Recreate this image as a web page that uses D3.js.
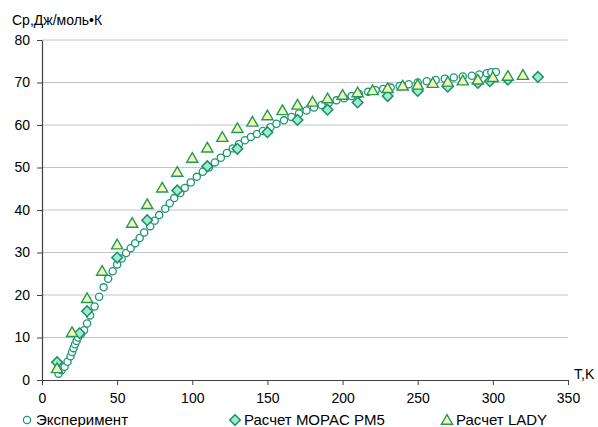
<!DOCTYPE html>
<html>
<head>
<meta charset="utf-8">
<script src="https://cdn.jsdelivr.net/npm/d3@7"></script>
<style>
  body { margin: 0; background: #fff; }
  svg { font-family: Arial, "Liberation Sans", sans-serif; }
</style>
</head>
<body>
<svg id="chart" width="598" height="427"></svg>
<script>
// experiment points [T, Cp]
const expT  = [11,13,15,17,19,20,21,22,23,24,26,28,30,32,35,38,41,44,47,50,53,56,59,62,65,68,72,75,78,82,85,88,92,95,99,103,107,111,115,119,123,127,131,135,139,143,147,152,156,161,166,171,176,181,186,191,196,201,206,211,217,222,227,232,238,244,250,256,262,268,274,280,286,291,296,299,302];
const expCp = [1.5,2.3,3.1,4.3,5.6,6.6,7.5,8.4,9.2,10.0,10.8,11.7,13.3,15.2,17.3,19.6,21.8,23.8,25.6,27.2,28.6,29.9,31.0,32.2,33.4,34.7,36.2,37.5,38.8,40.3,41.6,42.8,44.0,45.2,46.5,47.8,49.0,50.0,51.2,52.3,53.4,54.5,55.5,56.4,57.2,57.9,58.6,59.5,60.3,61.1,61.9,62.7,63.4,64.1,64.7,65.3,65.8,66.3,66.8,67.3,67.8,68.2,68.5,68.8,69.2,69.6,70.0,70.3,70.6,70.9,71.2,71.4,71.6,71.9,72.2,72.4,72.5];

// MOPAC PM5
const pm5T  = [10,25,30,50,70,90,110,130,150,170,190,210,230,250,270,290,298,310,330];
const pm5Cp = [4.2,11.0,16.2,28.8,37.6,44.6,50.3,54.4,58.3,61.2,63.6,65.3,66.8,68.0,69.0,69.9,70.3,70.7,71.3];

// LADY
const ladyT  = [10,20,30,40,50,60,70,80,90,100,110,120,130,140,150,160,170,180,190,200,210,220,230,240,250,260,270,280,290,300,310,320];
const ladyCp = [2.5,11.0,19.0,25.4,31.6,36.7,41.1,45.0,48.7,52.0,54.4,56.9,59.0,60.5,62.0,63.2,64.5,65.2,66.0,66.8,67.4,67.9,68.4,69.0,69.2,69.6,69.9,70.2,70.4,71.0,71.3,71.5];

const xTicks = [0,50,100,150,200,250,300,350];
const yTicks = [0,10,20,30,40,50,60,70,80];

const svg = d3.select("#chart");
const mLeft = 42, mRight = 568, mTop = 40, mBottom = 380;

const x = d3.scaleLinear().domain([0, 350]).range([mLeft, mRight]);
const y = d3.scaleLinear().domain([0, 80]).range([mBottom, mTop]);

const green = "#1e9870";

// gridlines
svg.append("g")
    .selectAll("line")
    .data(yTicks.filter(d => d > 0))
    .join("line")
    .attr("x1", mLeft).attr("x2", mRight)
    .attr("y1", d => y(d)).attr("y2", d => y(d))
    .attr("stroke", "#c4c4c4")
    .attr("stroke-width", 1);

// axes
const xAxis = svg.append("g")
    .attr("transform", `translate(0,${mBottom})`)
    .call(d3.axisBottom(x).tickValues(xTicks).tickSize(5).tickPadding(8).tickSizeOuter(0));
const yAxis = svg.append("g")
    .attr("transform", `translate(${mLeft},0)`)
    .call(d3.axisLeft(y).tickValues(yTicks).tickSize(5).tickPadding(7).tickSizeOuter(0));

[xAxis, yAxis].forEach(a => {
    a.select(".domain").attr("stroke", "#404040").attr("stroke-width", 1.2);
    a.selectAll(".tick line").attr("stroke", "#404040");
    a.selectAll("text").attr("font-size", 14).attr("fill", "#000")
        .attr("font-family", "Arial, 'Liberation Sans', sans-serif");
});

// axis titles
svg.append("text")
    .attr("x", 12).attr("y", 25)
    .attr("font-size", 14)
    .text("Ср,Дж/моль•К");
svg.append("text")
    .attr("x", 574).attr("y", 379)
    .attr("font-size", 14)
    .text("T,K");

const tri = d3.symbol().type(d3.symbolTriangle).size(54);
const dia = d3.symbol().type(d3.symbolSquare).size(56);

// experiment circles
svg.append("g")
    .selectAll("circle")
    .data(expT.map((t, i) => [t, expCp[i]]))
    .join("circle")
    .attr("cx", d => x(d[0]))
    .attr("cy", d => y(d[1]))
    .attr("r", 3.6)
    .attr("fill", "#fff")
    .attr("stroke", green)
    .attr("stroke-width", 1.3);

// PM5 diamonds
svg.append("g")
    .selectAll("path")
    .data(pm5T.map((t, i) => [t, pm5Cp[i]]))
    .join("path")
    .attr("d", dia)
    .attr("transform", d => `translate(${x(d[0])},${y(d[1])}) rotate(45)`)
    .attr("fill", "#9eeccc")
    .attr("stroke", "#1a8f6a")
    .attr("stroke-width", 1.5);

// LADY triangles
svg.append("g")
    .selectAll("path")
    .data(ladyT.map((t, i) => [t, ladyCp[i]]))
    .join("path")
    .attr("d", tri)
    .attr("transform", d => `translate(${x(d[0])},${y(d[1])})`)
    .attr("fill", "#f4f5b4")
    .attr("stroke", "#24985a")
    .attr("stroke-width", 1.4);

// legend
const legend = svg.append("g").attr("font-size", 15);
const ly = 420;
legend.append("circle").attr("cx", 27).attr("cy", ly).attr("r", 3.6)
    .attr("fill", "#fff").attr("stroke", green).attr("stroke-width", 1.3);
legend.append("text").attr("x", 36).attr("y", ly + 5).text("Эксперимент");

legend.append("path").attr("d", dia)
    .attr("transform", `translate(235,${ly}) rotate(45)`)
    .attr("fill", "#9eeccc").attr("stroke", "#1a8f6a").attr("stroke-width", 1.5);
legend.append("text").attr("x", 244).attr("y", ly + 5).text("Расчет MOPAC PM5");

legend.append("path").attr("d", tri)
    .attr("transform", `translate(447,${ly + 1})`)
    .attr("fill", "#f4f5b4").attr("stroke", "#24985a").attr("stroke-width", 1.4);
legend.append("text").attr("x", 456).attr("y", ly + 5).text("Расчет LADY");
</script>
</body>
</html>
